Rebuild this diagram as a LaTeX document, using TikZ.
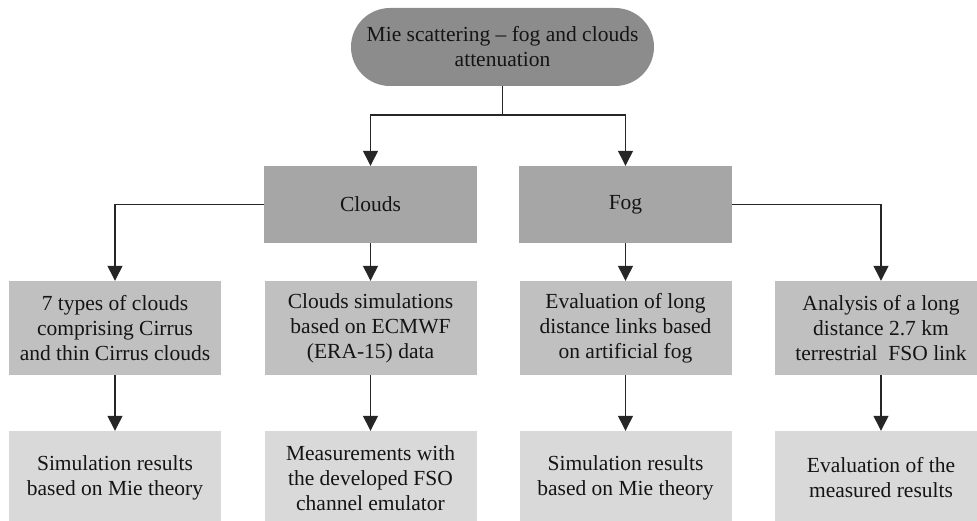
\documentclass[tikz,border=0pt]{standalone}
\usepackage{fontspec}
\setmainfont{Liberation Serif}
\usetikzlibrary{arrows.meta,positioning}
\definecolor{topc}{RGB}{140,140,140}
\definecolor{midc}{RGB}{166,166,166}
\definecolor{lvtc}{RGB}{192,192,192}
\definecolor{botc}{RGB}{217,217,217}
\definecolor{txtc}{RGB}{20,20,20}
\tikzset{
  box/.style={rectangle, minimum width=212pt, minimum height=94pt, inner sep=0pt, align=center, text=txtc, font=\fontsize{21.5}{25}\selectfont},
  topbox/.style={rectangle, rounded corners=39pt, fill=topc, minimum width=303pt, minimum height=78pt, inner sep=0pt, align=center, text=txtc, font=\fontsize{21.5}{25}\selectfont},
  midbox/.style={box, fill=midc, minimum height=77pt, minimum width=213pt},
  lvtbox/.style={box, fill=lvtc},
  botbox/.style={box, fill=botc},
  conn/.style={draw=black!85, line width=1.3pt, -{Triangle[width=15pt,length=15pt]}},
  plain/.style={draw=black!85, line width=1.3pt}
}
\begin{document}
\begin{tikzpicture}[x=1pt,y=1pt]
\useasboundingbox (0,0) rectangle (977,520);
\clip (0,0) rectangle (977,520);
\node[topbox] (top) at (502.5,473) {Mie scattering -- fog and clouds\\attenuation};
\node[midbox] (clouds) at (370.5,315.5) {Clouds};
\node[midbox] (fog) at (625.5,315.5) {Fog};
\node[lvtbox] (a1) at (115,192) {7 types of clouds\\comprising Cirrus\\and thin Cirrus clouds};
\node[lvtbox] (a2) at (370.5,192) {Clouds simulations\\based on ECMWF\\(ERA-15) data};
\node[lvtbox] (a3) at (625.5,192) {Evaluation of long\\distance links based\\on artificial fog};
\node[lvtbox] (a4) at (881,192) {Analysis of a long\\distance 2.7 km\\terrestrial\ \ FSO link};
\node[botbox] (b1) at (115,42) {Simulation results\\based on Mie theory};
\node[botbox] (b2) at (370.5,42) {Measurements with\\the developed FSO\\channel emulator};
\node[botbox] (b3) at (625.5,42) {Simulation results\\based on Mie theory};
\node[botbox] (b4) at (881,42) {Evaluation of the\\measured results};
\coordinate (j) at (502.5,405);
\draw[plain] (top.south) -- (j);
\draw[conn] (j) -| (clouds.north);
\draw[conn] (j) -| (fog.north);
\draw[conn] (clouds.west) -| (a1.north);
\draw[conn] (fog.east) -| (a4.north);
\draw[conn] (clouds.south) -- (a2.north);
\draw[conn] (fog.south) -- (a3.north);
\draw[conn] (a1.south) -- (b1.north);
\draw[conn] (a2.south) -- (b2.north);
\draw[conn] (a3.south) -- (b3.north);
\draw[conn] (a4.south) -- (b4.north);
\end{tikzpicture}
\end{document}
